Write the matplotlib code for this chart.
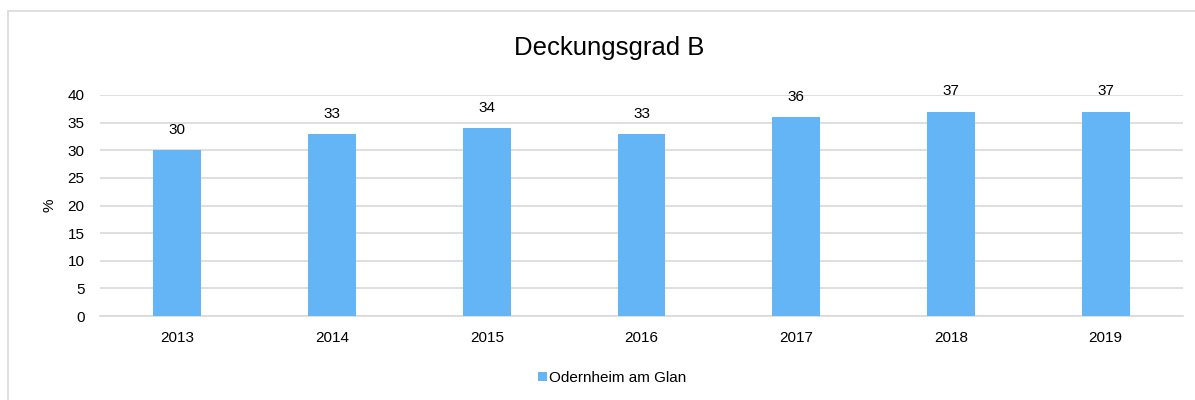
import matplotlib
matplotlib.use("Agg")
import matplotlib.pyplot as plt
from matplotlib.patches import Rectangle

years = ["2013", "2014", "2015", "2016", "2017", "2018", "2019"]
values = [30, 33, 34, 33, 36, 37, 37]
series_name = "Odernheim am Glan"
title = "Deckungsgrad B"
ylabel = "%"
yticks = [0, 5, 10, 15, 20, 25, 30, 35, 40]

plt.rcParams['font.family'] = ['Liberation Sans', 'DejaVu Sans']

W, H = 1195, 400
fig = plt.figure(figsize=(W/100, H/100), dpi=100)
fig.patch.set_facecolor('white')

# outer chart border
fig.add_artist(Rectangle((8/W, -0.01), 1.2, 1 - 11/H + 0.01, transform=fig.transFigure,
                         fill=False, edgecolor='#d9d9d9', linewidth=1.2))

ax = fig.add_axes([100/W, 1 - 316/H, (1183-100)/W, (316-95)/H])
color = '#63b5f6'
x = range(len(years))
bars = ax.bar(x, values, width=0.31, color=color, label=series_name, zorder=3)
for xi, v in zip(x, values):
    ax.annotate(f"{v}", (xi, v), xytext=(0, 14.5), textcoords='offset points',
                ha='center', va='center', fontsize=11, color='#000000')

ax.set_xlim(-0.5, len(years) - 0.5)
ax.set_ylim(0, 40)
ax.set_yticks(yticks)
ax.set_xticks(list(x))
ax.set_xticklabels(years)
ax.tick_params(axis='both', length=0, labelsize=11, colors='#000000')
ax.tick_params(axis='y', pad=11)
ax.tick_params(axis='x', pad=11)
ax.grid(axis='y', color='#d9d9d9', linewidth=1.2, zorder=0)
for s in ['top', 'right', 'left']:
    ax.spines[s].set_visible(False)
ax.spines['bottom'].set_color('#d9d9d9')
ax.spines['bottom'].set_linewidth(1.2)
ax.set_ylabel(ylabel, fontsize=11, labelpad=8)

fig.text(609/W, 1 - 48/H, title, ha='center', va='center', fontsize=18.5)

leg = fig.legend(handles=[bars], labels=[series_name], loc='center',
                 bbox_to_anchor=(612/W, 1 - 378/H), frameon=False, fontsize=11,
                 handlelength=0.6, handleheight=0.6, handletextpad=0.1)

fig.savefig("out.png", dpi=100)
